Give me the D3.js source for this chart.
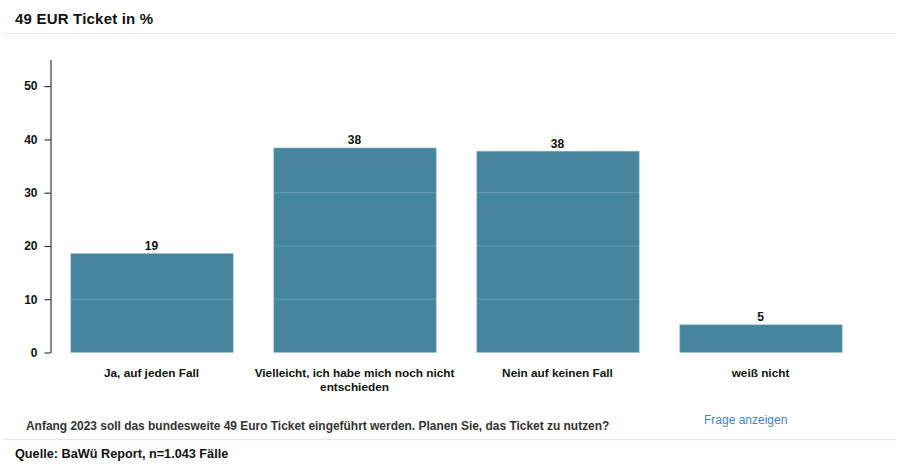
<!DOCTYPE html>
<html>
<head>
<meta charset="utf-8">
<script src="https://cdn.jsdelivr.net/npm/d3@7/dist/d3.min.js"></script>
<style>
  body { margin: 0; background: #fff; }
  text { font-family: "Liberation Sans", Arial, sans-serif; fill: #111; }
</style>
</head>
<body>
<div id="chart"></div>
<script>
var categories = ['Ja, auf jeden Fall', 'Vielleicht, ich habe mich noch nicht entschieden', 'Nein auf keinen Fall', 'weiß nicht'];
var values = [18.6, 38.4, 37.8, 5.2];
var valueLabels = ['19', '38', '38', '5'];
var yTicks = [0, 10, 20, 30, 40, 50];
var gridTicks = [10, 20, 30, 40, 50];

var svg = d3.select('#chart').append('svg')
  .attr('width', 900)
  .attr('height', 469)
  .style('display', 'block');

var x = d3.scaleBand().domain(categories).range([50.5, 862.5]).paddingInner(0.2).paddingOuter(0.1);
var y = d3.scaleLinear().domain([0, 55]).range([352.5, 59.5]);

// header and footer
svg.append('text').attr('x', 15).attr('y', 24)
  .style('font-size', '15px').style('font-weight', 'bold').style('letter-spacing', '0.2px')
  .text('49 EUR Ticket in %');
svg.append('line').attr('x1', 4).attr('x2', 896).attr('y1', 33.5).attr('y2', 33.5)
  .style('stroke', '#e6e6e6').style('stroke-width', 1);
svg.append('line').attr('x1', 4).attr('x2', 896).attr('y1', 439.5).attr('y2', 439.5)
  .style('stroke', '#e6e6e6').style('stroke-width', 1.5);
svg.append('text').attr('x', 26).attr('y', 430)
  .style('font-size', '11.94px').style('font-weight', 'bold').style('fill', '#333')
  .text('Anfang 2023 soll das bundesweite 49 Euro Ticket eingeführt werden. Planen Sie, das Ticket zu nutzen?');
svg.append('text').attr('x', 704).attr('y', 424)
  .style('font-size', '12px').style('fill', '#3d85c6').text('Frage anzeigen');
svg.append('text').attr('x', 15).attr('y', 458)
  .style('font-size', '12.7px').style('font-weight', 'bold').text('Quelle: BaWü Report, n=1.043 Fälle');

// bars
svg.selectAll('.bar').data(categories).enter().append('rect')
  .attr('class', 'bar')
  .attr('x', function(d) { return x(d); })
  .attr('width', x.bandwidth())
  .attr('y', function(d, i) { return y(values[i]); })
  .attr('height', function(d, i) { return y(0) - y(values[i]); })
  .style('fill', '#45869e')
  .style('stroke', '#9cc3d1')
  .style('stroke-width', 0.6);

// grid lines are white so they only show on the bars
svg.selectAll('.grid').data(gridTicks).enter().append('line')
  .attr('class', 'grid')
  .attr('x1', 51).attr('x2', 880)
  .attr('y1', function(d) { return y(d); })
  .attr('y2', function(d) { return y(d); })
  .style('stroke', 'rgba(255,255,255,0.2)');

// value labels
svg.selectAll('.val').data(categories).enter().append('text')
  .attr('class', 'val')
  .attr('x', function(d) { return x(d) + x.bandwidth() / 2 - 0.5; })
  .attr('y', function(d, i) { return y(values[i]) - 3.5; })
  .attr('text-anchor', 'middle')
  .style('font-size', '12px').style('font-weight', 'bold')
  .text(function(d, i) { return valueLabels[i]; });

// y axis
var yAxis = svg.append('g').attr('transform', 'translate(50.5,0)')
  .call(d3.axisLeft(y).tickValues(yTicks).tickSizeInner(6).tickSizeOuter(0).tickPadding(7));
yAxis.selectAll('text').style('font-size', '12px').style('font-weight', 'bold')
  .style('font-family', '"Liberation Sans", Arial, sans-serif');
yAxis.select('.domain').style('stroke', '#111');
yAxis.selectAll('.tick line').style('stroke', '#111');

// x labels, wrapped by hand at the width of the band
var xAxis = svg.append('g').attr('transform', 'translate(-0.5,352.5)')
  .call(d3.axisBottom(x).tickSize(0).tickPadding(0));
xAxis.select('.domain').remove();
xAxis.selectAll('text')
  .attr('dy', null)
  .style('font-size', '11.8px').style('font-weight', 'bold')
  .style('font-family', '"Liberation Sans", Arial, sans-serif')
  .each(function(d) {
    var el = d3.select(this), words = d.split(' '), lines = [], cur = '';
    el.text(null);
    words.forEach(function(w) {
      var t = cur ? cur + ' ' + w : w;
      if (t.length > 38) { lines.push(cur); cur = w; } else { cur = t; }
    });
    lines.push(cur);
    lines.forEach(function(l, i) {
      el.append('tspan').attr('x', 0).attr('y', 24 + i * 14).text(l);
    });
  });
</script>
</body>
</html>
